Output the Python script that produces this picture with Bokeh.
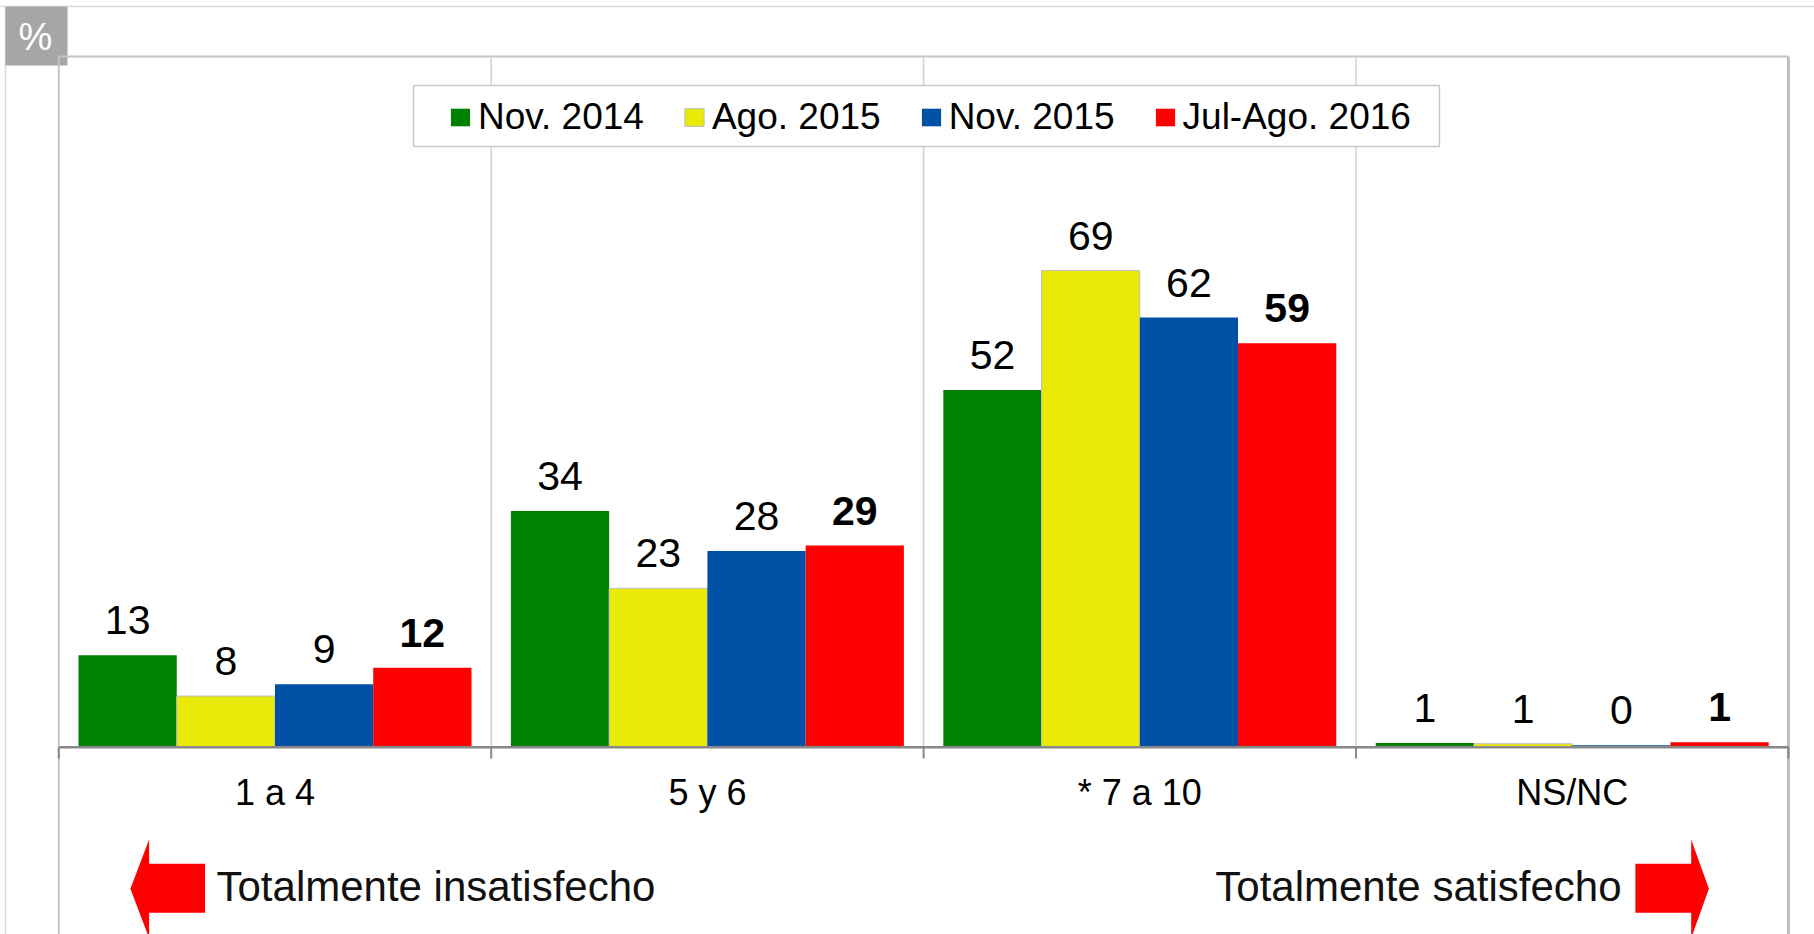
import numpy as np
from bokeh.plotting import figure
from bokeh.models import Legend, LegendItem, Range1d, ColumnDataSource
from bokeh.core.properties import value
from bokeh.embed import file_html
from bokeh.resources import INLINE

# ---------------- data ----------------
categories = ["1 a 4", "5 y 6", "* 7 a 10", "NS/NC"]
series_names = ["Nov. 2014", "Ago. 2015", "Nov. 2015", "Jul-Ago. 2016"]
nov_2014 = [13.3, 34.2, 51.7, 0.6]
ago_2015 = [7.4, 23.0, 69.0, 0.5]
nov_2015 = [9.1, 28.4, 62.2, 0.3]
jul_ago_2016 = [11.5, 29.2, 58.5, 0.7]
labels_nov_2014 = ["13", "34", "52", "1"]
labels_ago_2015 = ["8", "23", "69", "1"]
labels_nov_2015 = ["9", "28", "62", "0"]
labels_jul_ago_2016 = ["12", "29", "59", "1"]
scale_labels = ["Totalmente insatisfecho", "Totalmente satisfecho"]
unit_label = "%"

# ---------------- layout ----------------
FONT = "Liberation Sans"
W, H = 1814, 934
X0 = 58.3        # page x of category 0 left edge
CAT_W = 432.4    # px per category
Y0 = 746.7       # page y of value 0
PX_PER = 6.907   # px per percentage point
BAR_W = 0.2272

def dx(px):
    return (px - X0) / CAT_W

def dy(py):
    return (Y0 - py) / PX_PER

p = figure(width=W, height=H,
           x_range=Range1d(dx(0), dx(W)),
           y_range=Range1d(dy(H), dy(0)),
           x_axis_type=None, y_axis_type=None,
           toolbar_location=None, output_backend="svg",
           min_border=0, outline_line_color=None)
p.background_fill_color = "white"
p.border_fill_color = "white"

ncat = len(categories)
idx = np.arange(ncat)
ymax = 100.0

# page border
p.segment(x0=[dx(0)], y0=[dy(6)], x1=[dx(W)], y1=[dy(6)],
          line_color="#d9d9d9", line_width=1.5)
p.segment(x0=[dx(5)], y0=[dy(6)], x1=[dx(5)], y1=[dy(H)],
          line_color="#d9d9d9", line_width=1.5)

# "%" box
p.quad(left=[dx(5)], right=[dx(67)], top=[dy(6)], bottom=[dy(65)],
       fill_color="#a6a6a6", line_color=None)
p.text(x=[dx(35)], y=[dy(36)], text=[unit_label], text_color="white",
       text_font=value(FONT), text_font_size="38px",
       text_align="center", text_baseline="middle")

# plot-area frame
p.segment(x0=[0], y0=[ymax], x1=[ncat], y1=[ymax], line_color="#c4c4c4", line_width=2)
p.segment(x0=[0], y0=[ymax], x1=[0], y1=[dy(H + 5)], line_color="#c4c4c4", line_width=2)
p.segment(x0=[ncat], y0=[ymax], x1=[ncat], y1=[dy(H + 5)], line_color="#bdbdbd", line_width=3)

# vertical separators between categories
p.segment(x0=idx[1:], y0=[0] * (ncat - 1), x1=idx[1:], y1=[ymax] * (ncat - 1),
          line_color="#d0d0d0", line_width=1.5)

# bars
series = [nov_2014, ago_2015, nov_2015, jul_ago_2016]
labels = [labels_nov_2014, labels_ago_2015, labels_nov_2015, labels_jul_ago_2016]
colors = ["#008000", "#EAEA08", "#0050A6", "#FF0000"]
outlines = [None, "#bdbdbd", None, None]
renderers = []
for j, (vals, col, oc, labs) in enumerate(zip(series, colors, outlines, labels)):
    xs = idx + 0.5 + (j - 1.5) * BAR_W
    src = ColumnDataSource(dict(x=xs, top=vals, lab=labs))
    r = p.vbar(x="x", top="top", bottom=0, width=BAR_W, source=src,
               fill_color=col, line_color=oc, line_width=1)
    renderers.append(r)
    p.text(x="x", y="top", text="lab", source=src,
           text_font=value(FONT), text_font_size="41px", text_color="black",
           text_font_style="bold" if j == 3 else "normal",
           text_align="center", text_baseline="alphabetic", y_offset=-35)

# baseline and category ticks
p.segment(x0=[0], y0=[0], x1=[ncat], y1=[0], line_color="#888888", line_width=2.5)
tick_x = np.arange(ncat + 1)
p.segment(x0=tick_x, y0=[0] * (ncat + 1), x1=tick_x, y1=[dy(758)] * (ncat + 1),
          line_color="#888888", line_width=2)

# category labels
p.text(x=idx + 0.5, y=[dy(792)] * ncat, text=categories,
       text_font=value(FONT), text_font_size="36px", text_color="black",
       text_align="center", text_baseline="alphabetic")

# direction arrows
left_arrow_x = [129.9, 148.6, 148.6, 204.5, 204.5, 148.6, 148.6]
right_arrow_x = [1708.4, 1690.7, 1690.7, 1634.9, 1634.9, 1690.7, 1690.7]
arrow_y = [888.3, 839.0, 863.3, 863.3, 912.3, 912.3, 937.6]
p.patches(xs=[[dx(v) for v in left_arrow_x], [dx(v) for v in right_arrow_x]],
          ys=[[dy(v) for v in arrow_y], [dy(v) for v in arrow_y]],
          fill_color="#FF0000", line_color=None)
p.text(x=[dx(216)], y=[dy(886)], text=[scale_labels[0]],
       text_font=value(FONT), text_font_size="42px", text_color="#111111",
       text_align="left", text_baseline="alphabetic")
p.text(x=[dx(1621)], y=[dy(886)], text=[scale_labels[1]],
       text_font=value(FONT), text_font_size="42px", text_color="#111111",
       text_align="right", text_baseline="alphabetic")

# legend frame
p.quad(left=[dx(413)], right=[dx(1439)], top=[dy(85)], bottom=[dy(146)],
       fill_color="white", line_color="#c8c8c8", line_width=1.5)

legend = Legend(items=[LegendItem(label=n, renderers=[r]) for n, r in zip(series_names, renderers)],
                orientation="horizontal", location=(448, H - 138),
                glyph_width=24, glyph_height=22, label_standoff=6, spacing=38,
                padding=9, margin=0, border_line_color=None,
                background_fill_alpha=0,
                label_text_font=FONT, label_text_font_size="37px",
                label_text_color="black")
p.add_layout(legend)

open("out.html", "w").write(file_html(p, INLINE))
